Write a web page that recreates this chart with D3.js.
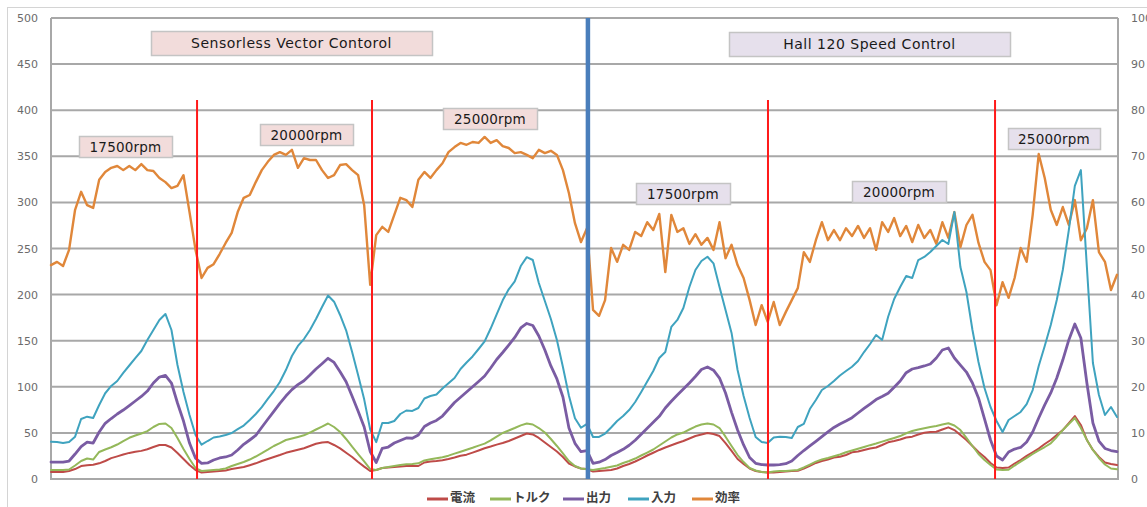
<!DOCTYPE html>
<html>
<head>
<meta charset="utf-8">
<script src="https://cdn.jsdelivr.net/npm/d3@7"></script>
<style>
  body { margin: 0; background: #ffffff; }
  svg { display: block; }
</style>
</head>
<body>
<svg id="chart" width="1147" height="507"></svg>
<script>
// ---- Measured series (one sample per time step) ----
const current = [
  7.6, 7.8, 7.5, 8.7, 10.8, 14, 15, 15.5, 17, 19.5,
  22.6, 24.5, 26.5, 28.3, 29.6, 30.5, 32.3, 34.7, 36.9, 36.9,
  34.2, 28.2, 21.7, 15.2, 9.8, 7, 7.6, 8.1, 8.7, 9.2,
  10.8, 11.9, 13, 15, 17, 19.5, 21.7, 23.9, 26, 28.4,
  30, 31.7, 33.4, 35.8, 38.2, 39.5, 40.1, 36.9, 33.2, 28.5,
  23.9, 18.4, 13.4, 8.7, 9.8, 11.9, 12.5, 13, 13.6, 14.1,
  14.1, 14.1, 17.9, 19, 19.5, 20.3, 21.7, 23.4, 25.3, 26.4,
  28.6, 30.9, 33.3, 35.2, 37.3, 39, 41.2, 43.9, 46.6, 49.3,
  48.3, 44.5, 39.6, 34.7, 29.8, 23.9, 16.8, 13.6, 11.4, 10.8,
  8.1, 8.7, 9.2, 9.8, 11.4, 14.1, 16.3, 19, 22.2, 25.5,
  28.5, 31.5, 34.2, 36.6, 39, 41.2, 43.9, 46.6, 48.3, 49.9,
  48.8, 46.6, 39, 30.4, 21.7, 16.3, 11.4, 8.7, 7.6, 7,
  7, 7.6, 8.1, 8.7, 9, 11.4, 14.4, 17.4, 19.5, 21.1,
  23.3, 24.2, 26, 28.9, 29.8, 31.5, 33, 34.2, 36.9, 39.8,
  41.2, 42.8, 45, 45.9, 48.3, 50.1, 51, 51.2, 53.7, 56,
  53.1, 47.7, 42.3, 35.8, 29.3, 23.9, 17.4, 12.5, 11.9, 12.5,
  16.8, 20.6, 25, 29, 33, 38, 42.3, 47.7, 53.1, 60.7,
  68.3, 58.6, 42.3, 31.5, 23.9, 17.9, 16.3, 15.2
];
const torque = [
  9.8, 9.8, 9.8, 10.3, 14.6, 19.5, 22.2, 21.1, 29.3, 32,
  34.4, 37.4, 41.2, 44.7, 47.2, 49.3, 52, 56.4, 59.7, 60.2,
  55.3, 44.5, 32.5, 21.7, 11.9, 8.7, 9.2, 9.8, 10.3, 11.4,
  14.1, 16.3, 18.4, 21.1, 24.4, 28, 31.8, 35.8, 39, 42.3,
  43.9, 45.6, 47.4, 50.4, 53.7, 56.9, 60.2, 56.4, 51, 43.4,
  35, 27.1, 19, 10.8, 9.8, 11.9, 13, 14.1, 15.2, 15.9,
  16.3, 17, 20.1, 21.4, 22.6, 23.6, 25.3, 27.5, 29.6, 31.8,
  33.9, 36.2, 38.4, 41.9, 46, 49.9, 52.6, 55.3, 58.2, 60.2,
  59.1, 55.3, 50.4, 43.4, 35.8, 27.7, 19.5, 14.1, 11.4, 10.5,
  9.8, 10.8, 11.9, 13.2, 14.6, 17.4, 19.5, 22.2, 25.5, 28.7,
  32, 36.3, 40.7, 45, 48.3, 50.4, 53.7, 56.9, 59.1, 60.2,
  59.1, 55.3, 45.9, 35.8, 26, 18.4, 11.9, 9.2, 7.6, 7,
  8.1, 8.7, 8.7, 9.2, 9.8, 12.5, 15.7, 18.8, 21.1, 22.8,
  24.7, 26.6, 29, 30.9, 32.8, 34.7, 36.7, 38.5, 40.5, 42.5,
  44.5, 46.6, 49.6, 52, 53.7, 55, 56.4, 57.5, 59.1, 60.4,
  58, 53.1, 44.5, 35.8, 27.1, 20.6, 15.2, 10.3, 9.8, 10,
  14.6, 18.8, 23, 27.1, 31.1, 34.7, 38.7, 45.6, 53.1, 59.7,
  66.2, 55.3, 42.3, 31.5, 22.8, 15.7, 11.4, 10.5
];
const output = [
  18.4, 18.4, 18.4, 19.5, 27.1, 35.2, 40.1, 39, 51, 60.4,
  65.6, 70.5, 74.8, 79.7, 84.6, 89.5, 95.4, 104.1, 110.6, 112.3,
  104.1, 82.4, 62.9, 39, 22.5, 17, 17.4, 20.6, 22.8, 23.9,
  26, 31.5, 37.6, 42.3, 47.2, 56.1, 64.8, 73.4, 82.1, 90,
  96.9, 102.3, 106.6, 112.8, 119.3, 125, 130.9, 126.4, 116.4, 105.5,
  89.7, 73.4, 56.4, 29.8, 17.9, 33.3, 34.7, 39, 41.8, 44.5,
  44.2, 47.7, 56.9, 60.7, 63.5, 68.3, 75.6, 83, 88.6, 94.4,
  100.1, 105.8, 111.7, 120.4, 129.6, 137.2, 145.3, 153.5, 163.8, 168.7,
  166.5, 155.1, 139.9, 122.6, 108.5, 88.9, 55.3, 38.7, 29.6, 30.9,
  17, 18.2, 21.1, 25.5, 28.7, 32.2, 36.6, 42, 48.5, 55,
  61.5, 68, 77, 84.3, 91.1, 97.6, 104.1, 111.2, 118.8, 121.5,
  118, 109.5, 93.3, 72.3, 53.1, 36.9, 23.3, 17, 15.7, 15.2,
  15.2, 15.7, 16.6, 19.5, 25.5, 30.9, 35.8, 40.9, 45.9, 51,
  55.9, 59.7, 62.9, 66.5, 71.6, 76.5, 81.3, 86.2, 89.5, 93,
  99.5, 106.3, 115.3, 119.3, 120.7, 122.6, 124.7, 131.2, 139.9, 142.1,
  131.2, 123.6, 116, 104.1, 87.9, 65.1, 42.3, 24.9, 20.6, 29.3,
  32.5, 34.2, 40.1, 51, 66.2, 80.3, 93.3, 109.5, 129, 150.8,
  168.1, 152.9, 104.1, 60.7, 41.2, 33.1, 30.9, 29.6
];
const input = [
  40.5, 40.1, 39, 40.1, 45.9, 65.1, 67.6, 66.2, 80.3, 93,
  100.9, 106.3, 115, 123.1, 131.2, 138.8, 150.8, 161.6, 172.5, 179,
  161.6, 123.6, 94.4, 69.4, 47.7, 37.2, 41.2, 45, 46.1, 47.7,
  49.9, 54, 58, 64, 70.5, 78, 86.8, 95.4, 105.2, 118.2,
  133.4, 144.3, 151.8, 161.6, 173.5, 186.5, 199, 192.3, 177.9, 161.3,
  137.7, 112.5, 86.4, 53.7, 40, 60.7, 60.7, 62.9, 70.5, 74.3,
  73.8, 77, 87.3, 90, 91.6, 98.2, 103.8, 109.5, 119.3, 126.4,
  132.9, 141, 149.3, 163.2, 178.6, 193.8, 205.7, 214.4, 231, 240.6,
  237.5, 212.6, 193.1, 173.5, 150.8, 121.5, 90.3, 65.8, 55.6, 59.7,
  45.6, 45.6, 49.3, 55.9, 62.9, 68.3, 74.8, 83.5, 94.4, 105.7,
  117.1, 131.2, 137.7, 164.9, 172.5, 185.5, 208.2, 226.7, 236.4, 241.1,
  233.9, 208.2, 183.3, 158.4, 118.2, 90, 66.2, 45.6, 40.1, 39,
  45, 45.9, 45.6, 44.5, 56.4, 59.7, 75.9, 85.7, 96.5, 100.9,
  106.3, 112.3, 117.1, 121.8, 128, 137.7, 146.4, 156.2, 150.8, 176,
  195.2, 208.2, 220.2, 218, 237.5, 240.8, 246.2, 252.7, 259.2, 254.9,
  289.6, 229.9, 202.8, 161.6, 126.9, 98.7, 78.1, 62.9, 51, 64,
  68.3, 72.7, 81.3, 96.5, 122.6, 144.3, 167, 194.1, 226.7, 270,
  318, 335, 230, 125.8, 91.1, 69.4, 78.1, 67.2
];
// efficiency in percent, read against the right-hand axis
const efficiency = [
  46.4, 47.1, 46.2, 49.7, 58.4, 62.3, 59.4, 58.8, 64.9, 66.6,
  67.5, 67.9, 67, 67.9, 67, 68.3, 67, 66.8, 65.3, 64.4,
  63.1, 63.6, 65.9, 57.9, 49.7, 43.6, 45.8, 46.6, 48.8, 51.2,
  53.4, 57.9, 61, 61.6, 64.4, 67, 68.8, 70.3, 70.9, 70.3,
  71.4, 67.5, 69.6, 69.2, 69.2, 67, 65.3, 65.9, 68.1, 68.3,
  67, 65.9, 59.4, 42.1, 52.9, 54.7, 53.6, 57.3, 61, 60.5,
  59, 64.9, 66.6, 65.3, 67, 68.5, 70.9, 72, 72.9, 72.5,
  73.1, 72.9, 74.2, 72.9, 73.5, 72.2, 71.8, 70.7, 70.9, 70.3,
  69.6, 71.4, 70.7, 71.2, 70.3, 67, 62, 55.5, 51.4, 54.4,
  36.7, 35.4, 38.8, 50.1, 47.1, 50.8, 49.7, 53.6, 52.7, 55.7,
  54, 57.5, 44.9, 57.3, 53.6, 54.4, 51, 53.1, 50.8, 52.3,
  49.7, 55.7, 47.9, 50.8, 46.4, 43.6, 38.8, 33.4, 37.7, 34.1,
  38.4, 33.4, 36.2, 38.8, 41.4, 49.2, 47.1, 51.8, 55.7, 51.8,
  54, 51.8, 54.4, 52.7, 54.9, 52.3, 54.4, 49.7, 55.7, 53.6,
  56.6, 52.7, 54.9, 51.4, 55.1, 52.3, 54, 51, 55.7, 52.3,
  57.9, 50.3, 55.1, 57.3, 51.2, 47.1, 45.3, 37.7, 42.7, 39.3,
  43.6, 50.1, 47.1, 57.3, 70.5, 65.3, 58.4, 55.1, 59, 55.1,
  60.5, 51.8, 54.4, 60.5, 49.2, 47.1, 41, 44.3
];

// ---- Axis ticks, legend names, annotations ----
const leftTicks = [0, 50, 100, 150, 200, 250, 300, 350, 400, 450, 500];
const rightTicks = [0, 10, 20, 30, 40, 50, 60, 70, 80, 90, 100];
const seriesNames = ["電流", "トルク", "出力", "入力", "効率"];
const speedSteps = [24.25, 53.3, 119.05, 156.75];   // sample index where the set speed changes
const stepMarkerTop = 411;                         // left-axis value where those markers end
const modeSplit = 89.15;                           // sample index where the control mode changes
const modeLabels = ["Sensorless Vector Contorol", "Hall 120 Speed Control"];
const speedLabels = ["17500rpm", "20000rpm", "25000rpm", "17500rpm", "20000rpm", "25000rpm"];

// ---- Layout & styling ----
const W = 1147, H = 507;
const plot = { left: 51, right: 1117, top: 18, bottom: 479 };
const colors = {
  "電流": "#be4b48",
  "トルク": "#94b85a",
  "出力": "#7a5ca3",
  "入力": "#3fa3bf",
  "効率": "#e0873a"
};
const widths = { "電流": 2, "トルク": 2, "出力": 2.8, "入力": 2, "効率": 2.4 };
const gridColor = "#a8a8a8";

const svg = d3.select("#chart");

// outer chart frame
svg.append("rect")
  .attr("x", 7.5).attr("y", 7.5).attr("width", 1300).attr("height", 700)
  .attr("fill", "#ffffff").attr("stroke", "#d4d4d4").attr("stroke-width", 1);

const N = current.length;
const x = d3.scaleLinear().domain([0, N - 1]).range([plot.left, plot.right]);
const yL = d3.scaleLinear().domain([0, 500]).range([plot.bottom, plot.top]);
const yR = d3.scaleLinear().domain([0, 100]).range([plot.bottom, plot.top]);
const plotRight = 1118;

// horizontal gridlines
svg.append("g").selectAll("line").data(leftTicks).join("line")
  .attr("x1", plot.left).attr("x2", plotRight)
  .attr("y1", d => yL(d)).attr("y2", d => yL(d))
  .attr("stroke", gridColor).attr("stroke-width", 2);

// axis frame lines
svg.append("line").attr("x1", plot.left).attr("x2", plot.left)
  .attr("y1", plot.top).attr("y2", plot.bottom + 1)
  .attr("stroke", gridColor).attr("stroke-width", 2);
svg.append("line").attr("x1", plotRight).attr("x2", plotRight)
  .attr("y1", plot.top).attr("y2", plot.bottom + 1)
  .attr("stroke", gridColor).attr("stroke-width", 2);

// tick labels
const axisL = svg.append("g").attr("transform", `translate(${plot.left},0)`)
  .call(d3.axisLeft(yL).tickValues(leftTicks).tickSize(0).tickPadding(13));
const axisR = svg.append("g").attr("transform", `translate(${plotRight},0)`)
  .call(d3.axisRight(yR).tickValues(rightTicks).tickSize(0).tickPadding(13));
[axisL, axisR].forEach(g => {
  g.select(".domain").remove();
  g.selectAll("text")
    .attr("font-family", "'DejaVu Sans', Verdana, sans-serif")
    .attr("font-size", 11).attr("fill", "#6b6b6b");
});

// series lines
const lineL = d3.line().x((d, i) => x(i)).y(d => yL(d));
const lineR = d3.line().x((d, i) => x(i)).y(d => yR(d));
const seriesData = {
  "電流": current, "トルク": torque, "出力": output, "入力": input, "効率": efficiency
};
const drawOrder = ["効率", "電流", "トルク", "出力", "入力"];
const gLines = svg.append("g").attr("fill", "none")
  .attr("stroke-linejoin", "round").attr("stroke-linecap", "round");
drawOrder.forEach(name => {
  gLines.append("path")
    .attr("d", (name === "効率" ? lineR : lineL)(seriesData[name]))
    .attr("stroke", colors[name])
    .attr("stroke-width", widths[name]);
});

// speed-step markers
svg.append("g").selectAll("line").data(speedSteps).join("line")
  .attr("x1", d => x(d)).attr("x2", d => x(d))
  .attr("y1", yL(stepMarkerTop)).attr("y2", yL(0))
  .attr("stroke", "#ff1a1a").attr("stroke-width", 2);

// control-mode divider
svg.append("line")
  .attr("x1", x(modeSplit)).attr("x2", x(modeSplit))
  .attr("y1", yL(500)).attr("y2", yL(0))
  .attr("stroke", "#4a7ebb").attr("stroke-width", 4.5);

// annotation boxes
const boxStyle = [
  { fill: "#f2dcdb" }, { fill: "#e6e0ec" }
];
const modeBoxes = [
  { text: modeLabels[0], x: 151, y: 31, w: 281, h: 24, side: 0 },
  { text: modeLabels[1], x: 729, y: 32, w: 281, h: 24, side: 1 }
];
const speedBoxes = [
  { text: speedLabels[0], x: 79, y: 136, w: 93, h: 21, side: 0 },
  { text: speedLabels[1], x: 260, y: 124, w: 93, h: 21, side: 0 },
  { text: speedLabels[2], x: 443, y: 108, w: 94, h: 21, side: 0 },
  { text: speedLabels[3], x: 636, y: 183, w: 94, h: 21, side: 1 },
  { text: speedLabels[4], x: 852, y: 181, w: 94, h: 21, side: 1 },
  { text: speedLabels[5], x: 1008, y: 128, w: 92, h: 21, side: 1 }
];
function drawBoxes(list, fontSize, spacing) {
  const g = svg.append("g");
  const b = g.selectAll("g").data(list).join("g");
  b.append("rect")
    .attr("x", d => d.x + 0.5).attr("y", d => d.y + 0.5)
    .attr("width", d => d.w).attr("height", d => d.h)
    .attr("fill", d => boxStyle[d.side].fill)
    .attr("stroke", "#c4c4c4").attr("stroke-width", 1.5);
  b.append("text")
    .attr("x", d => d.x + d.w / 2).attr("y", d => d.y + d.h / 2 + 1)
    .attr("text-anchor", "middle").attr("dominant-baseline", "middle")
    .attr("font-family", "'DejaVu Sans', Verdana, sans-serif")
    .attr("font-size", fontSize).attr("letter-spacing", spacing)
    .attr("fill", "#1a1a1a")
    .text(d => d.text);
}
drawBoxes(modeBoxes, 14, 0.5);
drawBoxes(speedBoxes, 13.5, 0.2);

// legend
const legendX = [427, 490, 563, 628, 692];
const legend = svg.append("g").selectAll("g").data(seriesNames).join("g")
  .attr("transform", (d, i) => `translate(${legendX[i]},499)`);
legend.append("line")
  .attr("x1", 0).attr("x2", 21).attr("y1", 0).attr("y2", 0)
  .attr("stroke", d => colors[d]).attr("stroke-width", 3);
legend.append("text")
  .attr("x", 23).attr("y", 0).attr("dominant-baseline", "middle")
  .attr("font-family", "'Noto Sans CJK JP', sans-serif")
  .attr("font-size", 12.5).attr("font-weight", 700).attr("fill", "#404040")
  .text(d => d);
</script>
</body>
</html>
